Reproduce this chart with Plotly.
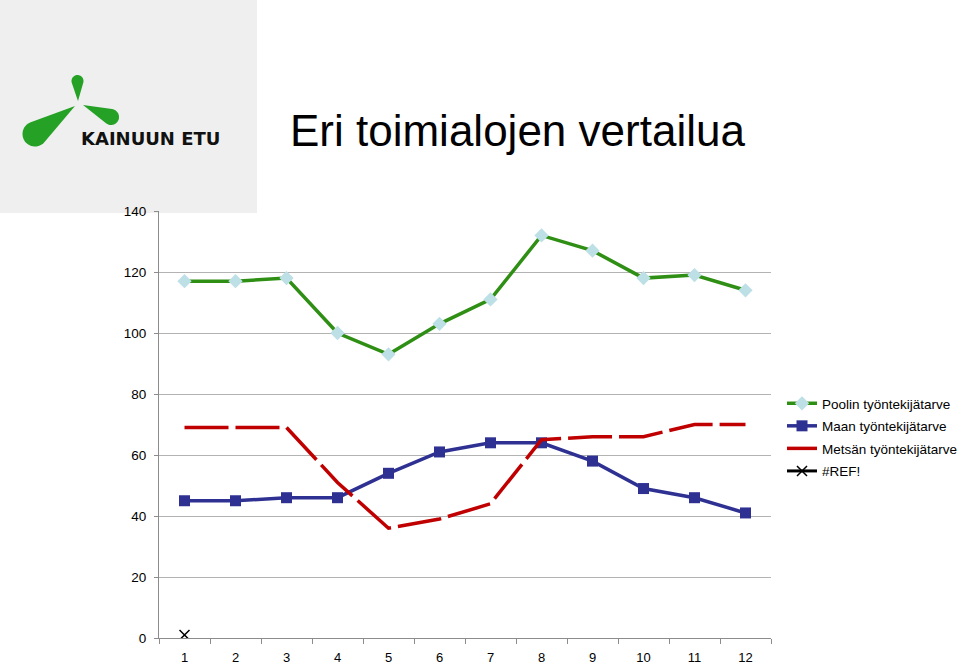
import math
import plotly.graph_objects as go

# ---------------- data ----------------
categories = ["1", "2", "3", "4", "5", "6", "7", "8", "9", "10", "11", "12"]
poolin = [117, 117, 118, 100, 93, 103, 111, 132, 127, 118, 119, 114]
maan = [45, 45, 46, 46, 54, 61, 64, 64, 58, 49, 46, 41]
metsan = [69, 69, 69, 51, 36, 39, 44, 65, 66, 66, 70, 70]
ref_x = ["1"]
ref_vals = [1]
y_ticks = [0, 20, 40, 60, 80, 100, 120, 140]

title_text = "Eri toimialojen vertailua"
logo_text = "KAINUUN ETU"

FONT = "Arial, Liberation Sans, Helvetica, sans-serif"

# plot area in pixels (for decoration placement)
PL, PR, PT, PB = 159, 771, 211, 638


def px(x):
    return (x - PL) / (PR - PL)


def py(y):
    return (PB - y) / (PB - PT)


def teardrop(tip, center, r, n=28):
    tx, ty = tip
    cx, cy = center
    d = math.hypot(tx - cx, ty - cy)
    a = math.atan2(ty - cy, tx - cx)
    b = math.acos(min(1.0, r / d))
    pts = [(tx, ty)]
    start = a + b
    end = a - b + 2 * math.pi
    for i in range(n + 1):
        t = start + (end - start) * i / n
        pts.append((cx + r * math.cos(t), cy + r * math.sin(t)))
    path = "M " + " L ".join(f"{px(x):.5f},{py(y):.5f}" for x, y in pts) + " Z"
    return path


fig = go.Figure()

fig.add_trace(go.Scatter(
    x=categories, y=poolin, name="Poolin työntekijätarve", legendgroup="a",
    mode="lines+markers",
    line=dict(color="#2f8f14", width=3.5),
    marker=dict(symbol="diamond", size=11, color="#bddfe6"),
))
fig.add_trace(go.Scatter(
    x=categories, y=maan, name="Maan työntekijätarve", legendgroup="b",
    mode="lines+markers",
    line=dict(color="#2e3192", width=3.5),
    marker=dict(symbol="square", size=11, color="#2e3192"),
))
fig.add_trace(go.Scatter(
    x=categories, y=metsan, name="Metsän työntekijätarve", legendgroup="c",
    mode="lines",
    line=dict(color="#c00000", width=3.5, dash="44px,7px"),
))
fig.add_trace(go.Scatter(
    x=ref_x, y=ref_vals, name="#REF!", legendgroup="d",
    mode="lines+markers",
    line=dict(color="#000000", width=3),
    marker=dict(symbol="x-thin", size=10, color="#000000",
                line=dict(color="#000000", width=1.5)),
))

shapes = [
    dict(type="rect", xref="paper", yref="paper", layer="below",
         x0=px(0), x1=px(257), y0=py(213), y1=py(0),
         fillcolor="#efefef", line=dict(width=0)),
]
blade_color = "#25a125"
for tip, cen, r in [((78, 101), (77.5, 81), 6),
                    ((83, 105), (111, 117), 8),
                    ((75, 106), (35, 134), 12.5)]:
    shapes.append(dict(type="path", xref="paper", yref="paper",
                       path=teardrop(tip, cen, r), fillcolor=blade_color,
                       line=dict(width=0), layer="above"))

annotations = [
    dict(text=title_text, xref="paper", yref="paper", x=px(517.5), y=py(130),
         xanchor="center", yanchor="middle", showarrow=False,
         font=dict(family=FONT, size=44, color="#000000")),
    dict(text="<b>" + logo_text + "</b>", xref="paper", yref="paper",
         x=px(150), y=py(138), xanchor="center", yanchor="middle", showarrow=False,
         font=dict(family="DejaVu Sans", size=18, color="#111111")),
]

fig.update_layout(
    width=960, height=665,
    margin=dict(l=PL, r=960 - PR, t=PT, b=665 - PB, autoexpand=False),
    paper_bgcolor="#ffffff",
    plot_bgcolor="rgba(0,0,0,0)",
    font=dict(family=FONT, size=13, color="#000000"),
    showlegend=True,
    legend=dict(x=px(782), y=py(388), xanchor="left", yanchor="top",
                bgcolor="rgba(0,0,0,0)", font=dict(family=FONT, size=13.5),
                tracegroupgap=2),
    shapes=shapes,
    annotations=annotations,
    xaxis=dict(type="category", categoryorder="array", categoryarray=categories,
               range=[-0.5, 11.5], showgrid=False, zeroline=False,
               showline=True, linecolor="#8c8c8c", linewidth=1,
               ticks="outside", tickson="boundaries", ticklen=5,
               tickcolor="#8c8c8c", ticklabelstandoff=7,
               tickfont=dict(family=FONT, size=13)),
    yaxis=dict(range=[0, 140], tickvals=y_ticks, showgrid=True,
               gridcolor="#b3b3b3", gridwidth=1, zeroline=False,
               showline=True, linecolor="#8c8c8c", linewidth=1,
               ticks="outside", ticklen=4, tickcolor="#8c8c8c",
               ticklabelstandoff=5,
               tickfont=dict(family=FONT, size=13.5)),
)

fig.write_html("out.html")
